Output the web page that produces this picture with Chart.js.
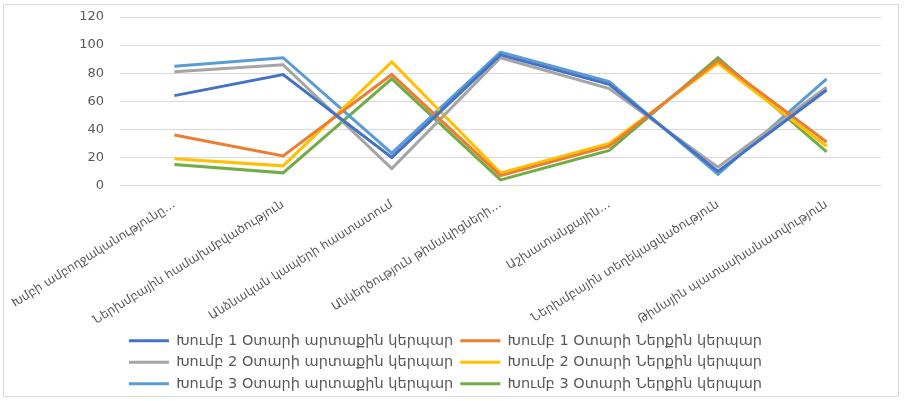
<!DOCTYPE html>
<html>
<head>
<meta charset="utf-8">
<script src="https://cdn.jsdelivr.net/npm/chart.js@4.4.0/dist/chart.umd.min.js"></script>
<style>
  html, body { margin: 0; padding: 0; background: #fff; }
  #wrap { position: relative; width: 905px; height: 401px; }
  #frame { position: absolute; left: 3px; top: 4px; width: 896px; height: 393px; border: 1px solid #D9D9D9; box-sizing: border-box; pointer-events: none; }
</style>
</head>
<body>
<div id="wrap">
  <canvas id="Chart_Main" width="905" height="401"></canvas>
  <div id="frame"></div>
</div>
<script>
var categories = [
  "Խմբի ամբողջականությունը…",
  "Ներխմբային համախմբվածություն",
  "Անձնական կապերի հաստատում",
  "Անկեղծություն թիմակիցների…",
  "Աշխատանքային…",
  "Ներխմբային տեղեկացվածություն",
  "Թիմային պատասխանատվություն"
]
var seriesNames = [
  "Խումբ 1 Օտարի արտաքին կերպար",
  "Խումբ 1 Օտարի Ներքին կերպար",
  "Խումբ 2 Օտարի արտաքին կերպար",
  "Խումբ 2 Օտարի Ներքին կերպար",
  "Խումբ 3 Օտարի արտաքին կերպար",
  "Խումբ 3 Օտարի Ներքին կերպար"
]
var g1_outer = [64, 79, 20, 93, 72, 10, 68]
var g1_inner = [36, 21, 79, 7, 28, 89, 31]
var g2_outer = [81, 86, 12, 91, 69, 13, 70]
var g2_inner = [19, 14, 88, 9, 30, 87, 28]
var g3_outer = [85, 91, 23, 95, 74, 8, 76]
var g3_inner = [15, 9, 76, 4, 25, 91, 24]
var yTicks = [0, 20, 40, 60, 80, 100, 120]

var colors = ['#4472C4', '#ED7D31', '#A5A5A5', '#FFC000', '#5B9BD5', '#70AD47']
var allSeries = [g1_outer, g1_inner, g2_outer, g2_inner, g3_outer, g3_inner]

var datasets = allSeries.map((vals, i) => {
  return {
    label: seriesNames[i],
    data: vals,
    borderColor: colors[i],
    backgroundColor: colors[i],
    borderWidth: 3,
    pointRadius: 0,
    tension: 0
  }
})

var ctx = document.getElementById('Chart_Main').getContext('2d');
var chart = new Chart(ctx, {
  type: 'line',
  data: {
    labels: categories,
    datasets: datasets
  },
  options: {
    responsive: false,
    animation: false,
    layout: { padding: { left: 10, right: 24, top: 17, bottom: 0 } },
    plugins: {
      tooltip: { enabled: false },
      legend: {
        position: 'bottom',
        labels: {
          boxWidth: 40,
          boxHeight: 3,
          padding: 7,
          color: '#595959',
          font: { family: 'DejaVu Sans', size: 14.5 },
          // thin line swatches, no stroke around the box
          generateLabels: (c) => Chart.defaults.plugins.legend.labels.generateLabels(c).map(l => { l.lineWidth = 0; return l })
        }
      }
    },
    scales: {
      x: {
        offset: true,
        grid: { display: false },
        border: { display: false },
        ticks: {
          minRotation: 32,
          maxRotation: 32,
          autoSkip: false,
          padding: 4,
          color: '#595959',
          font: { family: 'DejaVu Sans', size: 12 }
        },
        afterFit: (scale) => { scale.height = 141 }
      },
      y: {
        min: 0,
        max: 120,
        afterBuildTicks: (scale) => { scale.ticks = yTicks.map(v => ({ value: v })) },
        grid: { color: '#D9D9D9', drawTicks: false },
        border: { display: false },
        ticks: {
          padding: 16,
          color: '#595959',
          font: { family: 'DejaVu Sans', size: 13 }
        },
        afterFit: (scale) => {
          scale.width = 110
          scale.paddingTop = 0
          scale.paddingBottom = 0
        }
      }
    }
  }
});
</script>
</body>
</html>
